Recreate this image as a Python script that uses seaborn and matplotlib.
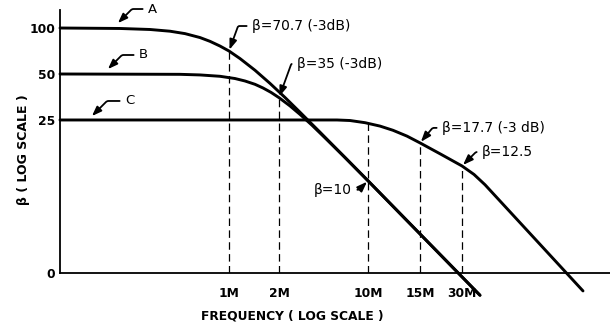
import matplotlib
matplotlib.use("Agg")
import matplotlib.pyplot as plt
from matplotlib.ticker import NullLocator
import pandas as pd
import seaborn as sns

# Schematic frequency axis: tick positions along the axis and their labels
freq_pos = [169, 219, 308, 360, 402]
freq_labels = ["1M", "2M", "10M", "15M", "30M"]

# Log-scaled beta axis; the bottom of the axis is labelled "0"
beta_floor = 2.49
beta_ticks = [beta_floor, 25, 50, 100]
beta_tick_labels = ["0", "25", "50", "100"]

# Curve A (beta0 = 100)
a_pos = [0, 60, 90, 110, 125, 140, 150, 160, 169, 180, 195, 210, 225, 240, 260, 285, 308, 420]
a_beta = [100, 99.3, 97.8, 95.3, 91.9, 86.6, 81.8, 76.2, 70.7, 63.1, 52.9, 43.4, 35.1, 28.1,
          20.8, 14.2, 10, 1.78]

# Curve B (beta0 = 50)
b_pos = [0, 120, 140, 160, 175, 185, 195, 203, 211, 219, 230, 240, 252, 265, 285, 308, 420]
b_beta = [50, 49.75, 49.3, 48.3, 46.7, 45.0, 42.8, 40.5, 37.9, 35.0, 30.9, 27.2, 23.1, 19.1,
          14.2, 10, 1.78]

# Curve C (beta0 = 25)
c_pos = [0, 277, 290, 305, 320, 333, 347, 360, 381, 402, 414, 425, 523]
c_beta = [25, 25, 24.8, 24.0, 22.8, 21.4, 19.6, 17.7, 14.9, 12.5, 11.0, 9.42, 1.90]

# Dashed drop lines at each marked frequency
drop_top = [70.7, 35, 25, 17.7, 12.5]

# Marked beta values
mark_pos = [169, 219, 308, 360, 402]
mark_beta = [70.7, 35, 10, 17.7, 12.5]
mark_text = ["\u03b2=70.7 (-3dB)", "\u03b2=35 (-3dB)", "\u03b2=10", "\u03b2=17.7 (-3 dB)", "\u03b2=12.5"]

df = pd.concat([
    pd.DataFrame({"pos": a_pos, "beta": a_beta, "curve": "A"}),
    pd.DataFrame({"pos": b_pos, "beta": b_beta, "curve": "B"}),
    pd.DataFrame({"pos": c_pos, "beta": c_beta, "curve": "C"}),
], ignore_index=True)

sns.set_style("white")
plt.rcParams["font.family"] = ["DejaVu Sans"]
plt.rcParams["text.color"] = "black"
plt.rcParams["axes.labelcolor"] = "black"
plt.rcParams["xtick.color"] = "black"
plt.rcParams["ytick.color"] = "black"

fig = plt.figure(figsize=(6.10, 3.26), dpi=100)
ax = fig.add_axes([60 / 610, 53 / 326, 550 / 610, 263 / 326])

sns.lineplot(data=df, x="pos", y="beta", hue="curve", units="curve", estimator=None,
             sort=False, palette={"A": "black", "B": "black", "C": "black"},
             legend=False, linewidth=2.1, ax=ax, clip_on=False, zorder=3)

ax.set_yscale("log")
ax.set_xlim(0, 550)
ax.set_ylim(beta_floor, 131.2)

ax.vlines(freq_pos, beta_floor, drop_top, colors="black", linewidth=0.9,
          linestyles=(0, (6, 3.5)), zorder=2)

ax.set_xticks(freq_pos)
ax.set_xticklabels(freq_labels)
ax.set_yticks(beta_ticks)
ax.set_yticklabels(beta_tick_labels)
ax.yaxis.set_minor_locator(NullLocator())
ax.xaxis.set_minor_locator(NullLocator())
ax.tick_params(axis="x", length=0, pad=10, labelsize=8.8, colors="black")
ax.tick_params(axis="y", length=0, pad=3.5, labelsize=8.8, colors="black")
for lbl in ax.get_xticklabels() + ax.get_yticklabels():
    lbl.set_fontweight("bold")

for side in ("top", "right"):
    ax.spines[side].set_visible(False)
for side in ("left", "bottom"):
    ax.spines[side].set_color("black")
    ax.spines[side].set_linewidth(1.3)

ax.set_xlabel("FREQUENCY ( LOG SCALE )", fontsize=8.8, fontweight="bold", va="center",
              color="black")
ax.xaxis.set_label_coords((292 - 60) / 550, (273 - 316) / 263)
ax.set_ylabel("\u03b2 ( LOG SCALE )", fontsize=9, fontweight="bold", va="center",
              color="black")
ax.yaxis.set_label_coords((24 - 60) / 550, (273 - 150) / 263)


def hook_label(text, xy, offset, angle, ha="left", shrink=1.0, size=10):
    ax.annotate(
        text, xy=xy, xycoords="data", xytext=offset, textcoords="offset pixels",
        ha=ha, va="center", fontsize=size, color="black", annotation_clip=False,
        arrowprops=dict(
            arrowstyle="-|>,head_length=0.6,head_width=0.22",
            connectionstyle=f"angle,angleA=0,angleB={angle},rad=1.5",
            color="black", lw=1.3, shrinkA=1.5, shrinkB=shrink,
            relpos=(0.0 if ha == "left" else 1.0, 0.5),
        ),
    )


# Curve names
hook_label("A", (a_pos[0] + 53, a_beta[0]), (35, 19), 45, shrink=5, size=9.5)
hook_label("B", (b_pos[0] + 43, b_beta[0]), (36, 19), 45, shrink=5, size=9.5)
hook_label("C", (c_pos[0] + 28, c_beta[0]), (37, 19), 45, shrink=4, size=9.5)

# Marked beta values
offsets = [(23, 25), (18, 34), (-16, -9), (22, 15), (20, 14)]
angles = [70, 70, 45, 50, 45]
aligns = ["left", "left", "right", "left", "left"]
for p, b, t, off, ang, ha in zip(mark_pos, mark_beta, mark_text, offsets, angles, aligns):
    hook_label(t, (p, b), off, ang, ha=ha)

fig.savefig("out.png", dpi=100)
